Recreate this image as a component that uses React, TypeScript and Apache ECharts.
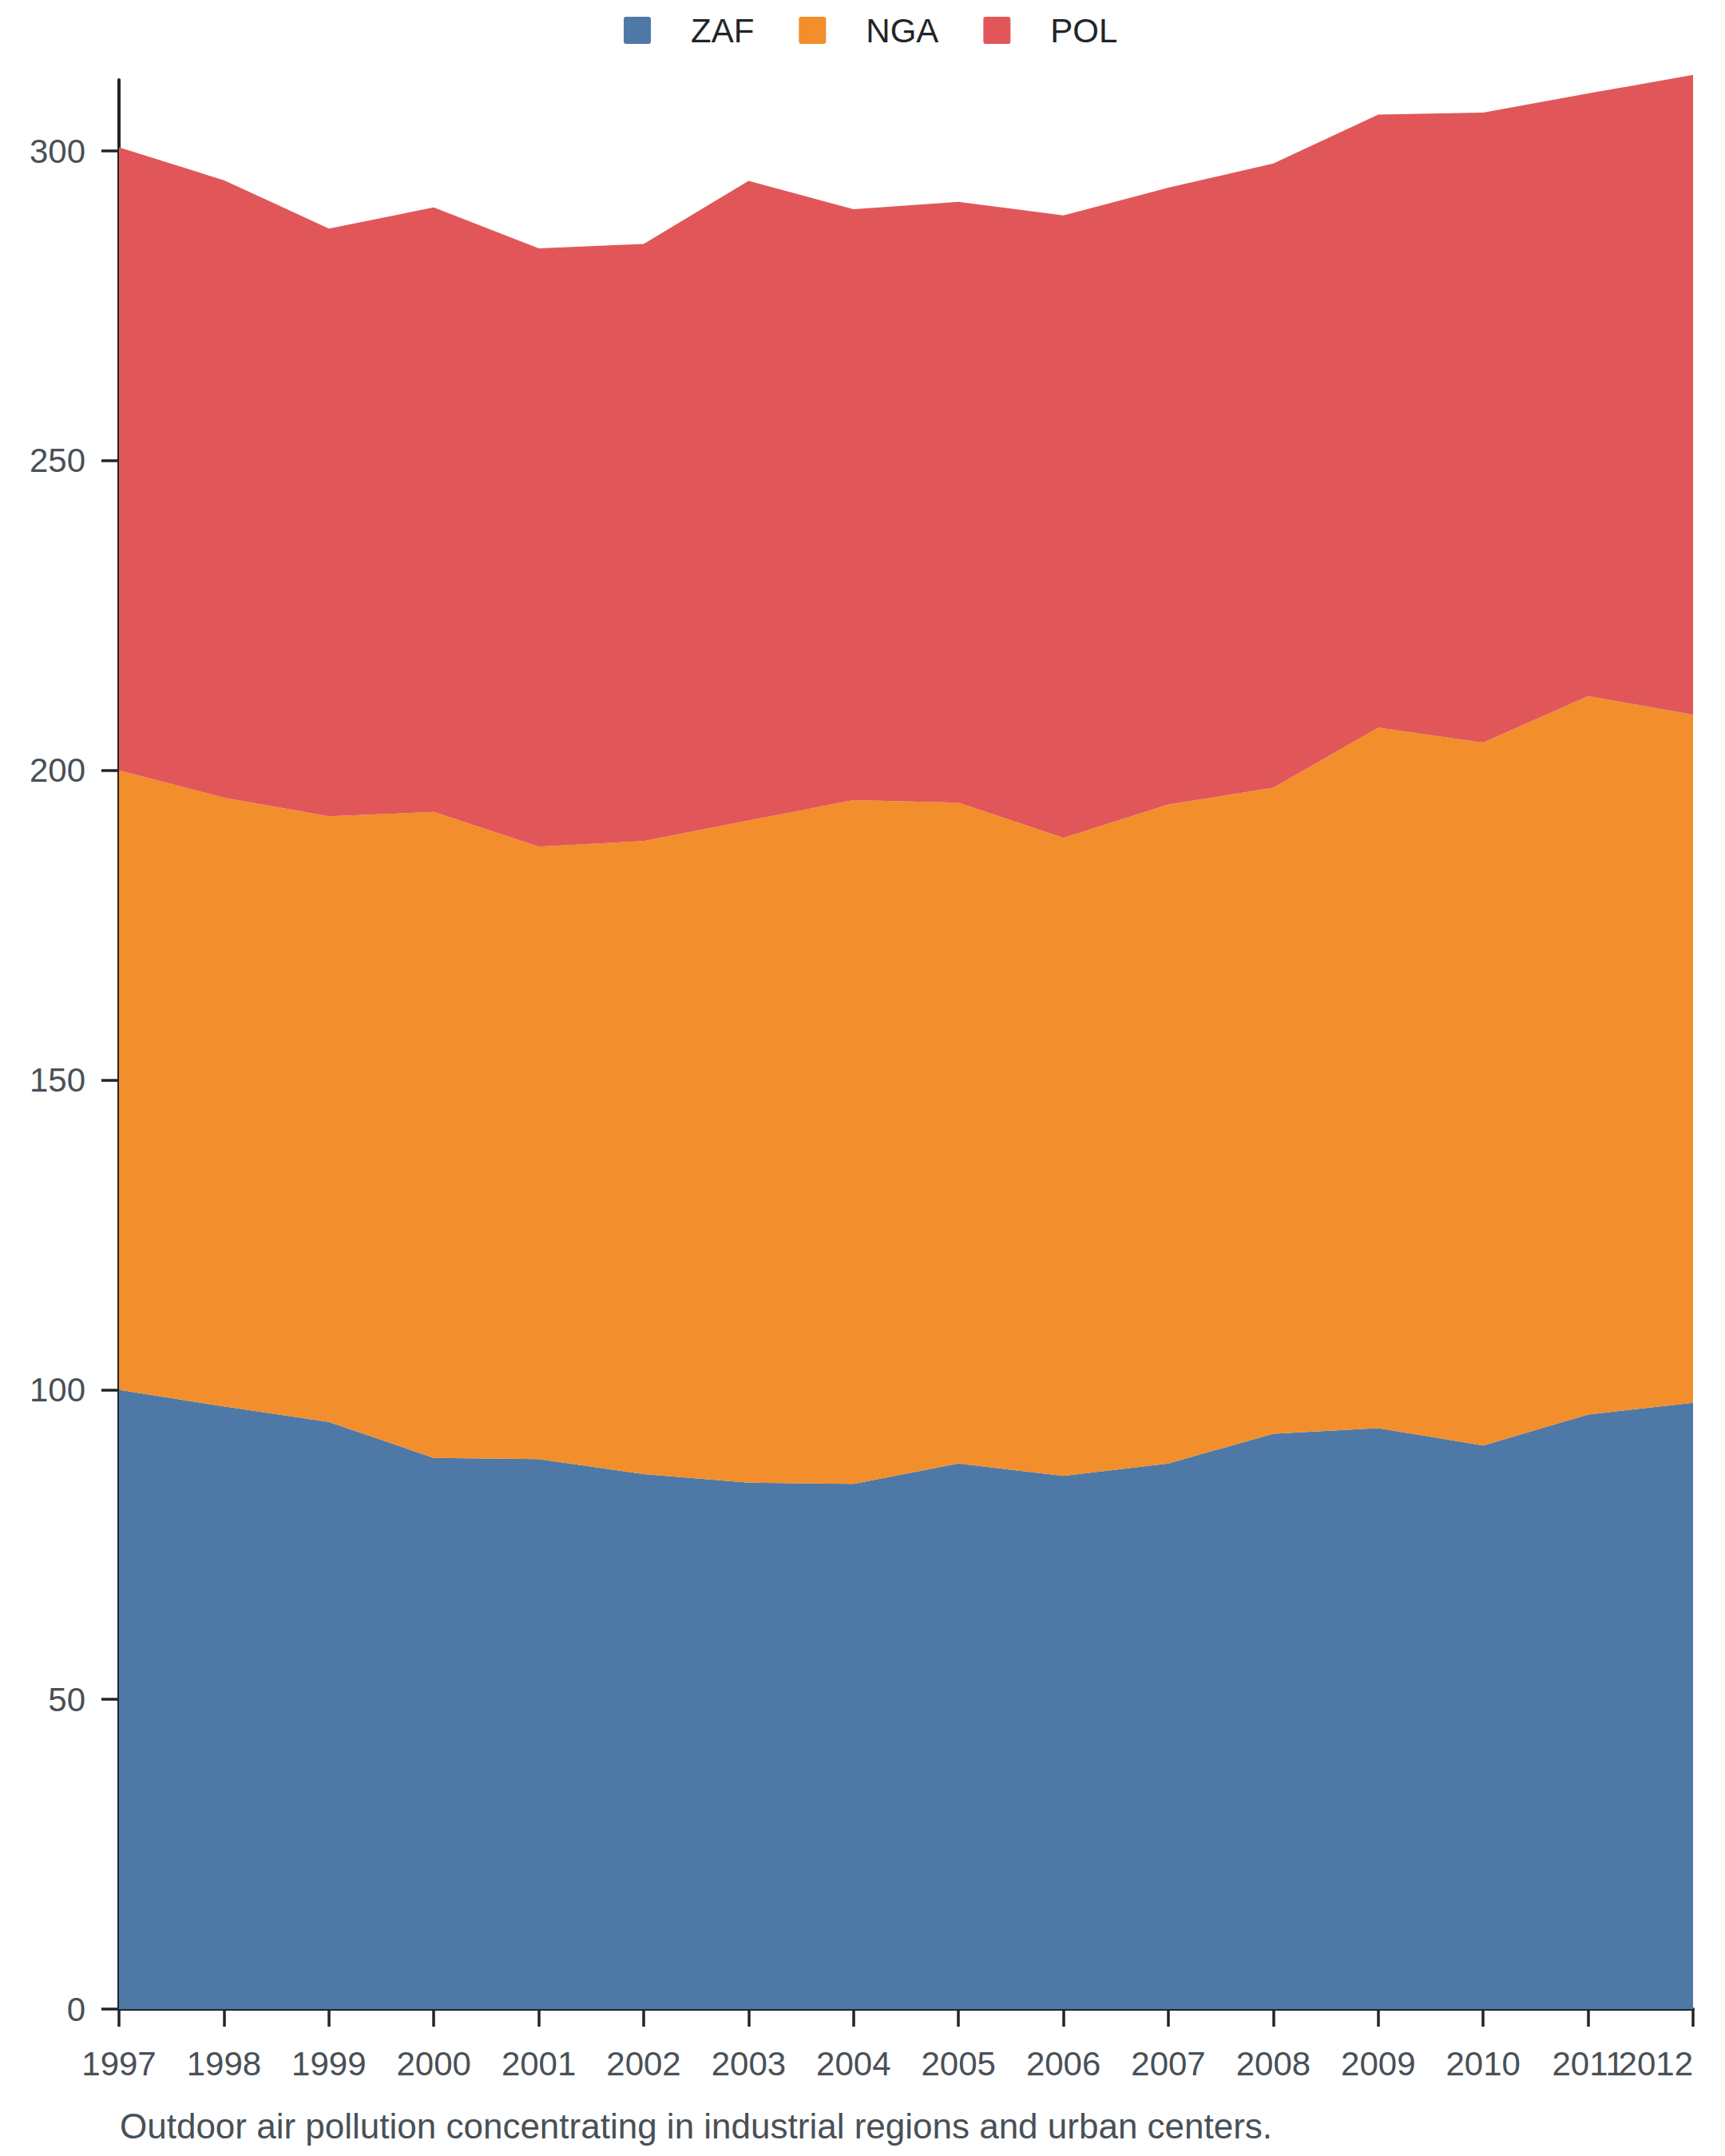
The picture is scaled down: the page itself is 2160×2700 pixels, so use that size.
import React, { useEffect, useRef } from "react";
import * as echarts from "echarts";

const years = ["1997", "1998", "1999", "2000", "2001", "2002", "2003", "2004", "2005", "2006", "2007", "2008", "2009", "2010", "2011", "2012"];
const zaf = [100, 97.3, 94.8, 89.0, 88.8, 86.4, 85.0, 84.8, 88.1, 86.1, 88.1, 92.9, 93.8, 91.0, 96.0, 97.9];
const nga = [100, 98.3, 97.8, 104.3, 98.9, 102.2, 106.9, 110.4, 106.7, 103.0, 106.4, 104.3, 113.1, 113.5, 116.0, 111.1];
const pol = [100.6, 99.7, 94.9, 97.6, 96.6, 96.4, 103.3, 95.4, 97.0, 100.5, 99.6, 100.8, 99.0, 101.7, 97.3, 103.3];
const yTicks = [0, 50, 100, 150, 200, 250, 300];
const seriesNames = ["ZAF", "NGA", "POL"];
const seriesColors = ["#4e79a7", "#f28e2b", "#e15759"];
const caption = "Outdoor air pollution concentrating in industrial regions and urban centers.";

const FONT = "'Liberation Sans', Arial, Helvetica, sans-serif";
const SQUARE_ICON = "path://M3,0H31Q34,0 34,3V31Q34,34 31,34H3Q0,34 0,31V3Q0,0 3,0Z";

export default function App() {
  const ref = useRef<HTMLDivElement>(null);
  useEffect(() => {
    if (!ref.current) return;
    const chart = echarts.init(ref.current, undefined, { renderer: "svg" });
    const values = [zaf, nga, pol];
    chart.setOption({
      animation: false,
      backgroundColor: "#ffffff",
      textStyle: { fontFamily: FONT },
      legend: {
        left: 776,
        top: 12,
        itemWidth: 34,
        itemHeight: 34,
        itemGap: 56,
        icon: SQUARE_ICON,
        textStyle: { fontSize: 42, color: "#212529", fontFamily: FONT, padding: [0, 0, 0, 45] },
        data: seriesNames,
      },
      grid: { left: 149, right: 40, top: 100, bottom: 184, containLabel: false },
      xAxis: {
        type: "category",
        data: years,
        boundaryGap: false,
        axisLine: { show: true, lineStyle: { color: "#212529", width: 4 } },
        axisTick: { show: true, length: 22, alignWithLabel: true, lineStyle: { color: "#212529", width: 3.5 } },
        axisLabel: { interval: 0, fontSize: 42, color: "#495057", margin: 47, fontFamily: FONT, alignMaxLabel: "right" },
        splitLine: { show: false },
      },
      yAxis: {
        type: "value",
        min: 0,
        max: 311.5,
        axisLine: { show: true, lineStyle: { color: "#212529", width: 4 } },
        axisTick: { show: true, length: 22, customValues: yTicks, lineStyle: { color: "#212529", width: 3.5 } },
        axisLabel: { fontSize: 42, color: "#495057", margin: 42, fontFamily: FONT, customValues: yTicks },
        splitLine: { show: false },
      },
      graphic: [
        {
          type: "text",
          left: 150,
          top: 2640,
          style: { text: caption, fontSize: 44, fill: "#495057", fontFamily: FONT },
        },
      ],
      series: seriesNames.map((name, i) => ({
        name,
        type: "line",
        stack: "total",
        data: values[i],
        clip: false,
        showSymbol: false,
        symbol: "none",
        lineStyle: { width: 0 },
        itemStyle: { color: seriesColors[i] },
        areaStyle: { color: seriesColors[i], opacity: 1 },
      })),
    });
    return () => chart.dispose();
  }, []);
  return <div ref={ref} style={{ position: "absolute", left: 0, top: 0, width: 2160, height: 2700 }} />;
}
